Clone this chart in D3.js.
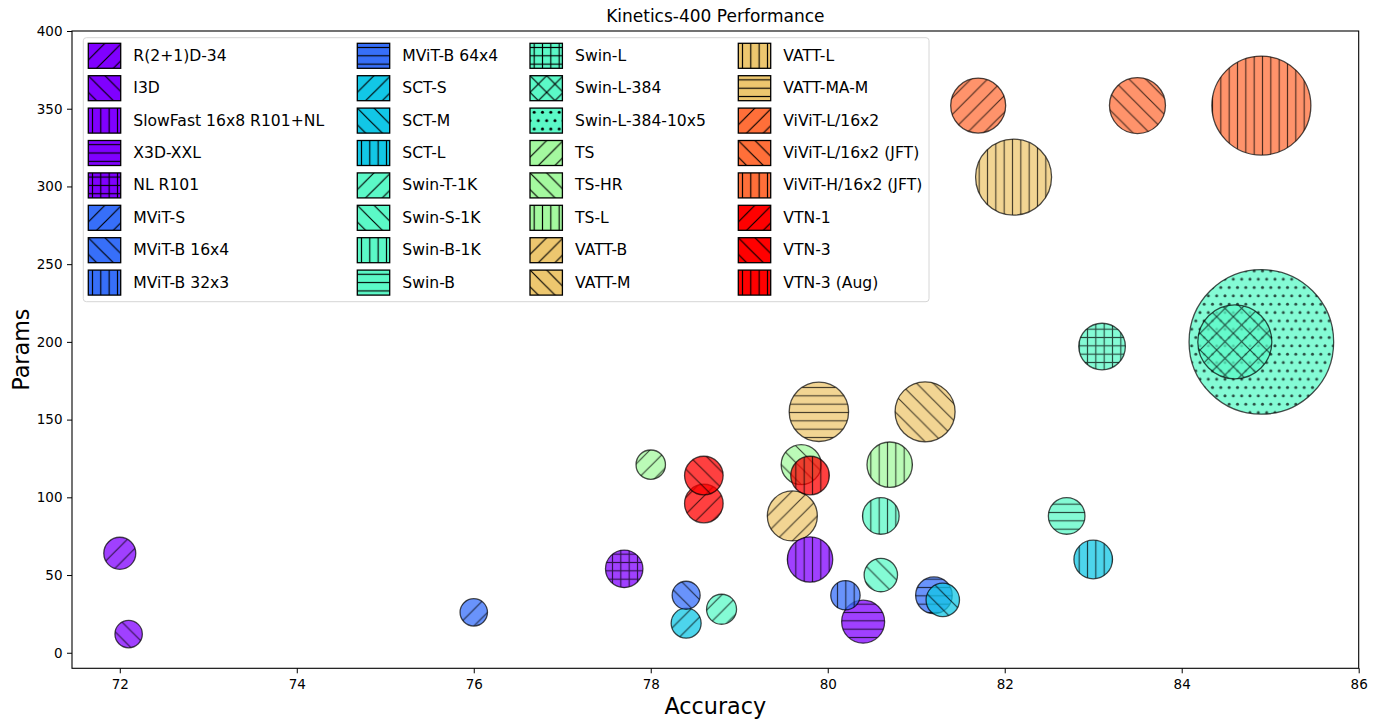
<!DOCTYPE html>
<html>
<head>
<meta charset="utf-8">
<script src="https://cdn.jsdelivr.net/npm/d3@7"></script>
<style>
  html, body { margin: 0; padding: 0; background: #fff; }
  svg { display: block; font-family: "DejaVu Sans", sans-serif; }
</style>
</head>
<body>
<svg id="chart" width="1377" height="719"></svg>
<script>
// ---------------- data ----------------
const models = [
  "R(2+1)D-34", "I3D", "SlowFast 16x8 R101+NL", "X3D-XXL", "NL R101",
  "MViT-S", "MViT-B 16x4", "MViT-B 32x3", "MViT-B 64x4",
  "SCT-S", "SCT-M", "SCT-L",
  "Swin-T-1K", "Swin-S-1K", "Swin-B-1K", "Swin-B", "Swin-L", "Swin-L-384", "Swin-L-384-10x5",
  "TS", "TS-HR", "TS-L",
  "VATT-B", "VATT-M", "VATT-L", "VATT-MA-M",
  "ViViT-L/16x2", "ViViT-L/16x2 (JFT)", "ViViT-H/16x2 (JFT)",
  "VTN-1", "VTN-3", "VTN-3 (Aug)"
];
const accuracy = [
  72.0, 72.1, 79.8, 80.4, 77.7,
  76.0, 78.4, 80.2, 81.2,
  78.4, 81.3, 83.0,
  78.8, 80.6, 80.6, 82.7, 83.1, 84.6, 84.9,
  78.0, 79.7, 80.7,
  79.6, 81.1, 82.1, 79.9,
  81.7, 83.5, 84.9,
  78.6, 78.6, 79.8
];
const params = [
  64, 12, 60, 20, 54,
  26, 37, 37, 37,
  19, 34, 60,
  28, 50, 88, 88, 197, 200, 200,
  121, 121, 121,
  88, 155, 306, 155,
  352, 352, 352,
  96, 114, 114
];
// relative bubble area
const bubbleSize = [
  256, 188, 515, 462, 350,
  188, 196, 216, 335,
  225, 279, 372,
  225, 279, 335, 335, 543, 1369, 5227,
  216, 400, 515,
  625, 900, 1444, 882,
  756, 784, 2450,
  372, 372, 372
];
const family = [
  0, 0, 0, 0, 0,
  1, 1, 1, 1,
  2, 2, 2,
  3, 3, 3, 3, 3, 3, 3,
  4, 4, 4,
  5, 5, 5, 5,
  6, 6, 6,
  7, 7, 7
];
const hatches = [
  "/", "\\", "|", "-", "+",
  "/", "\\", "|", "-",
  "/", "\\", "|",
  "/", "\\", "|", "-", "+", "x", ".",
  "/", "\\", "|",
  "/", "\\", "|", "-",
  "/", "\\", "|",
  "/", "\\", "|"
];
const xTicks = [72, 74, 76, 78, 80, 82, 84, 86];
const yTicks = [0, 50, 100, 150, 200, 250, 300, 350, 400];
const titleText = "Kinetics-400 Performance";
const xLabel = "Accuracy";
const yLabel = "Params";

// ---------------- layout ----------------
const W = 1377, H = 719;
const plot = { left: 72, right: 1358.7, top: 31, bottom: 668.3 };

// matplotlib 'rainbow' colormap
function rainbow(t) {
  const clamp = v => Math.max(0, Math.min(1, v));
  const r = clamp(Math.abs(2 * t - 0.5));
  const g = clamp(Math.sin(Math.PI * t));
  const b = clamp(Math.cos(Math.PI / 2 * t));
  return d3.rgb(r * 255, g * 255, b * 255).formatHex();
}
const nFamilies = d3.max(family) + 1;
const colorScale = d3.scaleOrdinal()
  .domain(d3.range(nFamilies))
  .range(d3.range(nFamilies).map(i => rainbow(i / (nFamilies - 1))));

const x = d3.scaleLinear().domain([71.46, 86]).range([plot.left, plot.right]);
const y = d3.scaleLinear().domain([-10, 400]).range([plot.bottom, plot.top]);
const r = d3.scaleSqrt().domain([0, d3.max(bubbleSize)]).range([0, 72.3]);

const svg = d3.select("#chart");
const defs = svg.append("defs");

// ---------------- hatch patterns ----------------
const U = 50;            // hatch unit
const s = U / 6;         // line spacing
const dd = U / 3;        // diagonal spacing (horizontal)
const hatchLW = 1.15;
const patternDefs = {
  "/":  { id: "h-slash", w: dd, h: dd, paths: [`M0,${dd}L${dd},0`, `M-2,2L2,-2`, `M${dd-2},${dd+2}L${dd+2},${dd-2}`] },
  "\\": { id: "h-back",  w: dd, h: dd, paths: [`M0,0L${dd},${dd}`, `M-2,${dd-2}L2,${dd+2}`, `M${dd-2},-2L${dd+2},2`] },
  "x":  { id: "h-x",     w: dd, h: dd, paths: [`M0,${dd}L${dd},0`, `M-2,2L2,-2`, `M${dd-2},${dd+2}L${dd+2},${dd-2}`,
                                                `M0,0L${dd},${dd}`, `M-2,${dd-2}L2,${dd+2}`, `M${dd-2},-2L${dd+2},2`] },
  "|":  { id: "h-vert",  w: s, h: s, paths: [`M${s/2},0V${s}`] },
  "-":  { id: "h-horiz", w: s, h: s, paths: [`M0,${s/2}H${s}`] },
  "+":  { id: "h-plus",  w: s, h: s, paths: [`M${s/2},0V${s}`, `M0,${s/2}H${s}`] },
  ".":  { id: "h-dot",   w: s, h: 2 * s, dots: [[s/2, s/2], [0, 1.5 * s], [s, 1.5 * s]] }
};
Object.values(patternDefs).forEach(p => {
  const pat = defs.append("pattern")
    .attr("id", p.id)
    .attr("patternUnits", "userSpaceOnUse")
    .attr("width", p.w).attr("height", p.h);
  (p.paths || []).forEach(d => pat.append("path").attr("d", d)
    .attr("stroke", "#000").attr("stroke-width", hatchLW).attr("fill", "none"));
  (p.dots || []).forEach(([cx, cy]) => pat.append("circle")
    .attr("cx", cx).attr("cy", cy).attr("r", 1.5).attr("fill", "#000"));
});
const hatchUrl = h => `url(#${patternDefs[h].id})`;

defs.append("clipPath").attr("id", "plotClip").append("rect")
  .attr("x", plot.left).attr("y", plot.top)
  .attr("width", plot.right - plot.left).attr("height", plot.bottom - plot.top);

// ---------------- points ----------------
const data = models.map((m, i) => ({
  name: m, acc: accuracy[i], p: params[i], size: bubbleSize[i],
  color: colorScale(family[i]), hatch: hatches[i]
}));
// larger bubbles underneath smaller ones
const drawOrder = data.slice().sort((a, b) => d3.descending(a.size, b.size));
const alpha = 0.75;
const pts = svg.append("g").attr("clip-path", "url(#plotClip)")
  .selectAll("g.pt").data(drawOrder).join("g").attr("class", "pt");
pts.append("circle")
  .attr("cx", d => x(d.acc)).attr("cy", d => y(d.p)).attr("r", d => r(d.size))
  .attr("fill", d => d.color).attr("fill-opacity", alpha);
pts.append("circle")
  .attr("cx", d => x(d.acc)).attr("cy", d => y(d.p)).attr("r", d => r(d.size))
  .attr("fill", d => hatchUrl(d.hatch)).attr("fill-opacity", 0.7)
  .attr("stroke", "#000").attr("stroke-opacity", 0.7).attr("stroke-width", 1.3);

// ---------------- axes ----------------
const xAxis = svg.append("g").attr("transform", `translate(0,${plot.bottom})`)
  .call(d3.axisBottom(x).tickValues(xTicks).tickFormat(d3.format("d")).tickSize(5).tickPadding(6.5));
const yAxis = svg.append("g").attr("transform", `translate(${plot.left},0)`)
  .call(d3.axisLeft(y).tickValues(yTicks).tickFormat(d3.format("d")).tickSize(5).tickPadding(4.5));
[xAxis, yAxis].forEach(a => {
  a.select(".domain").remove();
  a.selectAll("text").attr("font-size", 13.5).attr("fill", "#000")
    .attr("font-family", "DejaVu Sans, sans-serif");
  a.selectAll("line").attr("stroke", "#000").attr("stroke-width", 1);
});
svg.append("rect")
  .attr("x", plot.left).attr("y", plot.top)
  .attr("width", plot.right - plot.left).attr("height", plot.bottom - plot.top)
  .attr("fill", "none").attr("stroke", "#000").attr("stroke-width", 1.1);

// ---------------- labels ----------------
const cx = (plot.left + plot.right) / 2;
svg.append("text").attr("x", cx).attr("y", 21.5).attr("text-anchor", "middle")
  .attr("font-size", 17).attr("fill", "#000").text(titleText);
svg.append("text").attr("x", cx).attr("y", 714).attr("text-anchor", "middle")
  .attr("font-size", 22.3).attr("fill", "#000").text(xLabel);
svg.append("text")
  .attr("transform", `translate(29,${(plot.top + plot.bottom) / 2}) rotate(-90)`)
  .attr("text-anchor", "middle").attr("font-size", 22.3).attr("fill", "#000").text(yLabel);

// ---------------- legend ----------------
const legend = svg.append("g");
legend.append("rect")
  .attr("x", 83.3).attr("y", 37.7).attr("width", 929 - 83.3).attr("height", 301.7 - 37.7)
  .attr("rx", 3).attr("ry", 3)
  .attr("fill", "#fff").attr("fill-opacity", 0.8)
  .attr("stroke", "#d6d6d6").attr("stroke-width", 1);
const colX = [88.3, 357.3, 530, 738.3];
const rowsPerCol = 8;
const rowY0 = 43.3, rowStep = 32.4, patchW = 32.4, patchH = 25, textGap = 12.6;
const items = legend.selectAll("g.item").data(data).join("g").attr("class", "item")
  .attr("transform", (d, i) => `translate(${colX[Math.floor(i / rowsPerCol)]},${rowY0 + (i % rowsPerCol) * rowStep})`);
items.append("rect").attr("width", patchW).attr("height", patchH).attr("fill", d => d.color);
items.append("rect").attr("width", patchW).attr("height", patchH)
  .attr("fill", d => hatchUrl(d.hatch)).attr("stroke", "#000").attr("stroke-width", 1.3);
items.append("text").attr("x", patchW + textGap).attr("y", patchH / 2)
  .attr("dominant-baseline", "central").attr("font-size", 15.6).attr("fill", "#000")
  .text(d => d.name);
</script>
</body>
</html>
